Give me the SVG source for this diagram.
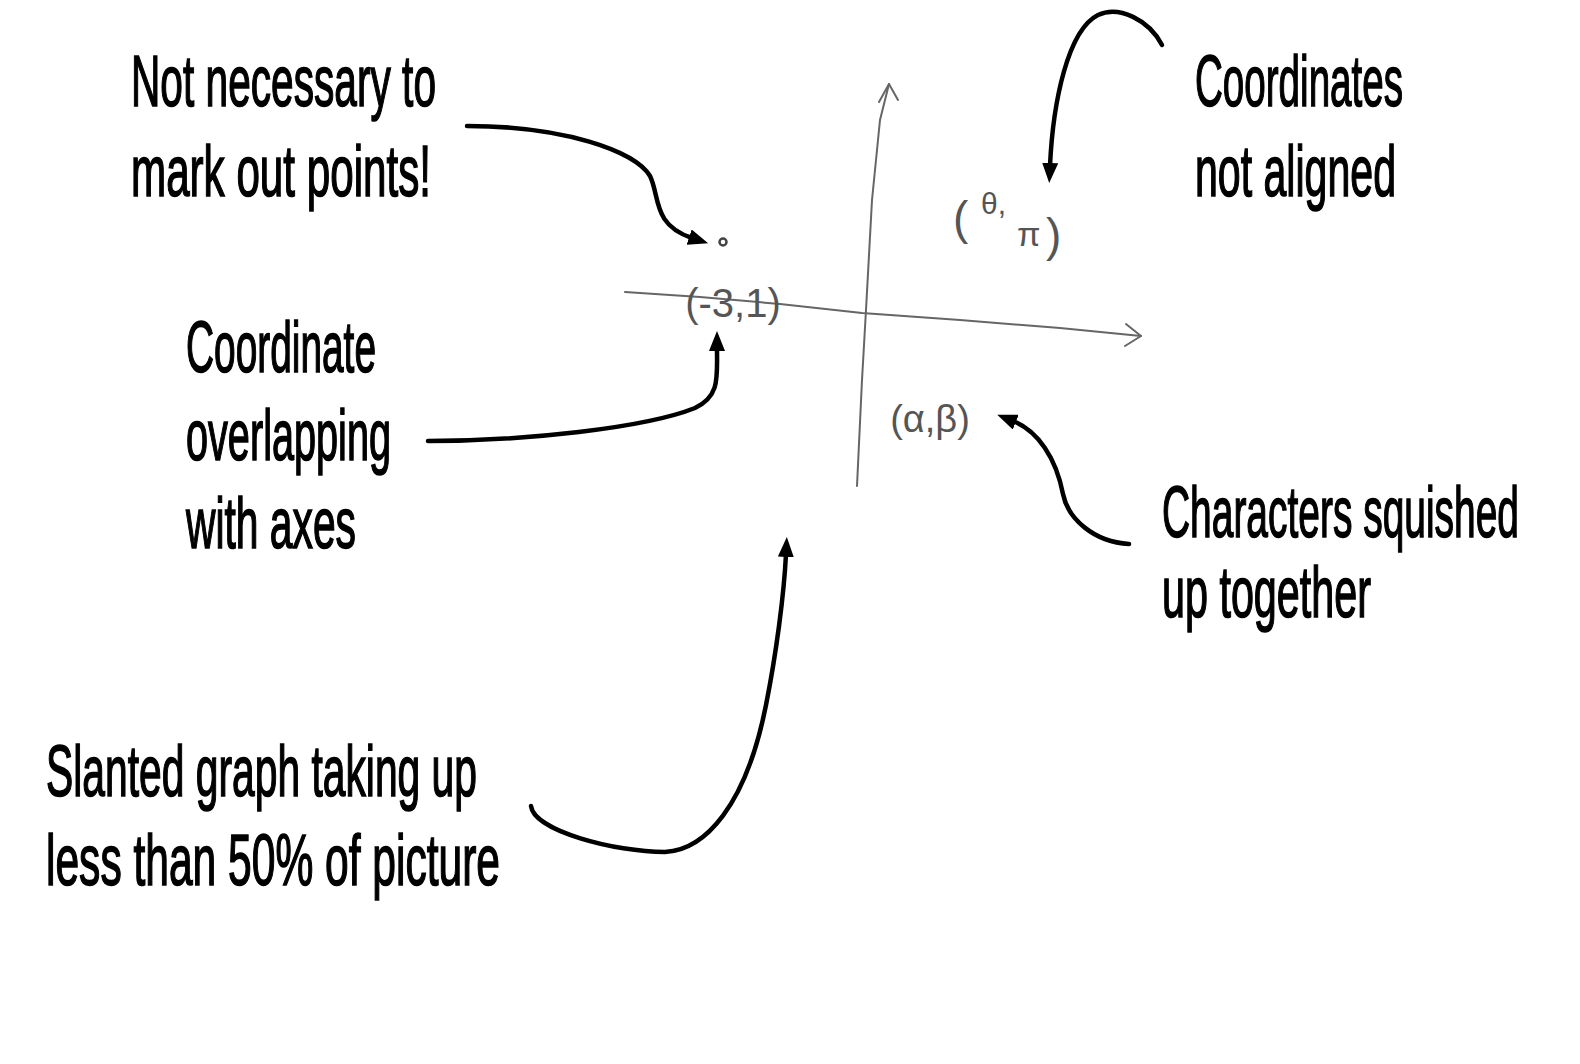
<svg xmlns="http://www.w3.org/2000/svg" width="1580" height="1064" viewBox="0 0 1580 1064">
<defs>
<style>
.lbl{font-family:"Liberation Sans","DejaVu Sans",sans-serif;font-size:41px;fill:#000;stroke:#000;stroke-width:0.9px;}
.coord{font-family:"Liberation Sans","DejaVu Sans",sans-serif;fill:#555;}
.axis{fill:none;stroke:#666;stroke-width:2;stroke-linecap:round;stroke-linejoin:round;}
.arrow{fill:none;stroke:#000;stroke-width:4.5;stroke-linecap:round;}
</style>
<marker id="head" viewBox="0 0 20 16" markerWidth="20" markerHeight="16" refX="3" refY="8" orient="auto" markerUnits="userSpaceOnUse">
<path d="M0,0 L20,8 L0,16 z" fill="#000"/>
</marker>
</defs>
<rect width="1580" height="1064" fill="#fff"/>

<g id="graph">
<path class="axis" d="M857,486 L862,380 L866,310 L872,200 L880,120 L889,84"/>
<path class="axis" d="M879,102 L889,84 L898,100"/>
<path class="axis" d="M625,292 L700,297 L780,304 L862,313 L960,320 L1060,328 L1141,336"/>
<path class="axis" d="M1126,324 L1141,336 L1125,346"/>
<circle cx="723" cy="242" r="3.5" fill="none" stroke="#444" stroke-width="2.5"/>
<text class="coord" x="733" y="317" font-size="40" text-anchor="middle">(-3,1)</text>
<text class="coord" x="953" y="234" font-size="46">(</text>
<text class="coord" x="981" y="214" font-size="30">θ,</text>
<text class="coord" x="1017" y="246" font-size="34">π</text>
<text class="coord" x="1046" y="251" font-size="46">)</text>
<text class="coord" x="930" y="432" font-size="38" text-anchor="middle">(α,β)</text>
</g>

<g id="n1">
<text class="lbl" transform="translate(131,106) scale(1,1.75)" textLength="305" lengthAdjust="spacingAndGlyphs">Not necessary to</text>
<text class="lbl" transform="translate(131,196) scale(1,1.75)" textLength="300" lengthAdjust="spacingAndGlyphs">mark out points!</text>
</g>
<g id="n2">
<text class="lbl" transform="translate(1195,106) scale(1,1.75)" textLength="208" lengthAdjust="spacingAndGlyphs">Coordinates</text>
<text class="lbl" transform="translate(1195,196) scale(1,1.75)" textLength="201" lengthAdjust="spacingAndGlyphs">not aligned</text>
</g>
<g id="n3">
<text class="lbl" transform="translate(186,372) scale(1,1.75)" textLength="190" lengthAdjust="spacingAndGlyphs">Coordinate</text>
<text class="lbl" transform="translate(186,460) scale(1,1.75)" textLength="205" lengthAdjust="spacingAndGlyphs">overlapping</text>
<text class="lbl" transform="translate(186,548) scale(1,1.75)" textLength="170" lengthAdjust="spacingAndGlyphs">with axes</text>
</g>
<g id="n4">
<text class="lbl" transform="translate(1162,537) scale(1,1.75)" textLength="357" lengthAdjust="spacingAndGlyphs">Characters squished</text>
<text class="lbl" transform="translate(1162,617) scale(1,1.75)" textLength="209" lengthAdjust="spacingAndGlyphs">up together</text>
</g>
<g id="n5">
<text class="lbl" transform="translate(46,796) scale(1,1.75)" textLength="431" lengthAdjust="spacingAndGlyphs">Slanted graph taking up</text>
<text class="lbl" transform="translate(46,885) scale(1,1.75)" textLength="454" lengthAdjust="spacingAndGlyphs">less than 50% of picture</text>
</g>

<g id="connectors">
<path class="arrow" marker-end="url(#head)" d="M467,126 C564,126 635,151 650,176 C660,196 652,225 692,238"/>
<path class="arrow" marker-end="url(#head)" d="M1162,45 C1149,20 1119,5 1098,15 C1068,30 1053,101 1050,166"/>
<path class="arrow" marker-end="url(#head)" d="M428,441 C524,441 645,428 695,408 C720,396 717,378 717,348"/>
<path class="arrow" marker-end="url(#head)" d="M1129,544 C1094,542 1068,519 1063,494 C1056,458 1038,431 1013,421"/>
<path class="arrow" marker-end="url(#head)" d="M531,806 C534,831 615,852 665,852 C705,850 746,806 766,705 C776,655 784,595 786,554"/>
</g>
</svg>
